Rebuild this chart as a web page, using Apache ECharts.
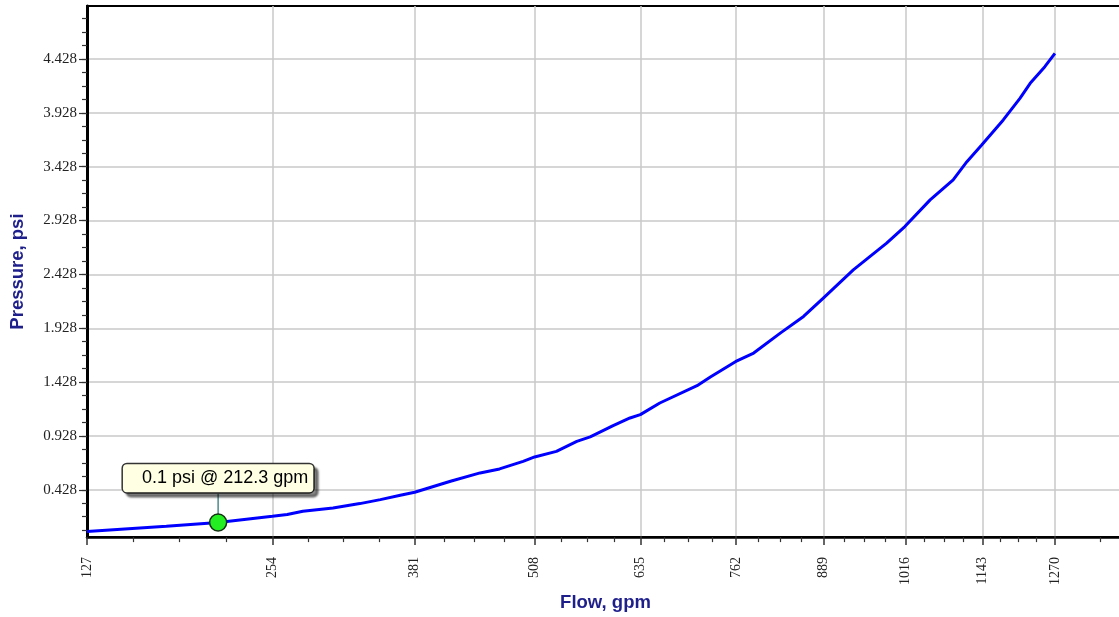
<!DOCTYPE html>
<html>
<head>
<meta charset="utf-8">
<script src="https://cdn.jsdelivr.net/npm/echarts@6/dist/echarts.min.js"></script>
<style>
  html, body { margin: 0; padding: 0; background: #fff; overflow: hidden; }
  /* plot runs a few pixels past the right edge of the window, as in the source image */
  #chart { width: 1126px; height: 617px; }
</style>
</head>
<body>
<div id="chart"></div>
<script>
// flow (gpm) vs pressure (psi)
const flowGpm = [127, 176, 212.3, 254, 266, 279, 305, 329, 348, 367, 381, 417, 448, 469, 495, 508,
  533, 557, 573, 601, 622, 635, 660, 709, 727, 762, 787, 825, 859, 888, 934, 986, 1015,
  1056, 1094, 1117, 1142, 1179, 1208, 1226, 1252, 1270]
const pressurePsi = [0.040, 0.089, 0.125, 0.182, 0.198, 0.229, 0.260, 0.300, 0.337, 0.377, 0.405, 0.507, 0.585, 0.622, 0.692, 0.733,
  0.785, 0.878, 0.919, 1.024, 1.095, 1.126, 1.234, 1.395, 1.475, 1.620, 1.698, 1.883, 2.038, 2.205, 2.470, 2.718, 2.872,
  3.120, 3.306, 3.475, 3.630, 3.862, 4.063, 4.202, 4.357, 4.481]

// highlighted point
const markerFlow = [212.3]
const markerPsi = [0.125]

// axis ticks
const flowTicks = [127, 254, 381, 508, 635, 762, 889, 1016, 1143, 1270]
const flowExtraMinor = [1352]
const psiTicks = [0.428, 0.928, 1.428, 1.928, 2.428, 2.928, 3.428, 3.928, 4.428]
const psiMin = -0.011
const psiMax = 4.92
const flowMin = 127
const flowMax = 1397

// the x axis is square-root scaled
const sq = v => Math.sqrt(v)

const xMajor = flowTicks.map(sq)
const xMinor = []
for (let i = 0; i < xMajor.length - 1; i++) {
  const step = (xMajor[i + 1] - xMajor[i]) / 4
  for (let k = 1; k < 4; k++) xMinor.push(xMajor[i] + step * k)
}
flowExtraMinor.forEach(v => xMinor.push(sq(v)))

const yMinor = []
for (let v = psiTicks[0] - 0.375; v < psiMax; v += 0.125) {
  if (v > psiMin) yMinor.push(+v.toFixed(4))
}

const navy = '#1f1f8c'
const tickColor = '#333'

const chart = echarts.init(document.getElementById('chart'), null, { renderer: 'canvas' })

chart.setOption({
  animation: false,
  grid: {
    left: 87,
    top: 6,
    right: 2,
    bottom: 79.5,
    show: true,
    borderColor: '#000',
    borderWidth: 2,
    backgroundColor: 'transparent'
  },
  xAxis: [
    {
      type: 'value',
      position: 'bottom',
      min: sq(flowMin),
      max: sq(flowMax),
      name: 'Flow, gpm',
      nameLocation: 'middle',
      nameGap: 51,
      nameTextStyle: { color: navy, fontSize: 18.5, fontWeight: 'bold', fontFamily: 'Liberation Sans, Arial, sans-serif' },
      axisLine: { onZero: false, lineStyle: { color: '#000', width: 2.5 } },
      axisTick: { customValues: xMajor, length: 8, lineStyle: { color: tickColor, width: 1.5 } },
      axisLabel: {
        customValues: xMajor,
        rotate: 90,
        margin: 20,
        color: '#222',
        fontSize: 14,
        fontFamily: 'Liberation Serif, Times New Roman, serif',
        formatter: v => String(Math.round(v * v))
      },
      splitLine: { show: true, lineStyle: { color: '#c8c8c8', width: 1.5 } }
    },
    {
      type: 'value',
      position: 'bottom',
      min: sq(flowMin),
      max: sq(flowMax),
      axisLine: { show: false, onZero: false },
      axisTick: { customValues: xMinor, length: 5, lineStyle: { color: tickColor, width: 1.2 } },
      axisLabel: { show: false },
      splitLine: { show: false }
    }
  ],
  yAxis: [
    {
      type: 'value',
      position: 'left',
      min: psiMin,
      max: psiMax,
      name: 'Pressure, psi',
      nameLocation: 'middle',
      nameGap: 60,
      nameRotate: 90,
      nameTextStyle: { color: navy, fontSize: 18.5, fontWeight: 'bold', fontFamily: 'Liberation Sans, Arial, sans-serif' },
      axisLine: { show: true, onZero: false, lineStyle: { color: '#000', width: 3 } },
      axisTick: { show: true, customValues: psiTicks, length: 8, lineStyle: { color: tickColor, width: 1.2 } },
      axisLabel: {
        customValues: psiTicks,
        margin: 10,
        color: '#222',
        fontSize: 15,
        fontFamily: 'Liberation Serif, Times New Roman, serif',
        formatter: v => v.toFixed(3)
      },
      splitLine: { show: true, lineStyle: { color: '#c8c8c8', width: 1.5 } }
    },
    {
      type: 'value',
      position: 'left',
      min: psiMin,
      max: psiMax,
      axisLine: { show: false, onZero: false },
      axisTick: { show: true, customValues: yMinor, length: 5, lineStyle: { color: tickColor, width: 1.2 } },
      axisLabel: { show: false },
      splitLine: { show: false }
    }
  ],
  series: [
    {
      name: 'Pressure',
      type: 'line',
      xAxisIndex: 0,
      yAxisIndex: 0,
      showSymbol: false,
      symbol: 'none',
      data: flowGpm.map((f, i) => [sq(f), pressurePsi[i]]),
      lineStyle: { color: '#0000ff', width: 3 },
      z: 3
    },
    {
      name: 'Marker',
      type: 'scatter',
      xAxisIndex: 0,
      yAxisIndex: 0,
      symbolSize: 17,
      data: markerFlow.map((f, i) => [sq(f), markerPsi[i]]),
      itemStyle: { color: '#22ee22', borderColor: '#123312', borderWidth: 1.5, opacity: 1 },
      label: {
        show: true,
        position: 'top',
        distance: 0,
        formatter: p => markerPsi[p.dataIndex].toFixed(1) + ' psi @ ' + markerFlow[p.dataIndex].toFixed(1) + ' gpm',
        color: '#000',
        fontSize: 18,
        lineHeight: 20,
        fontFamily: 'Liberation Sans, Arial, sans-serif',
        backgroundColor: '#ffffe4',
        borderColor: '#333',
        borderWidth: 1.5,
        borderRadius: 4,
        padding: [4, 5, 4, 19],
        shadowColor: 'rgba(0,0,0,0.45)',
        shadowBlur: 2,
        shadowOffsetX: 4,
        shadowOffsetY: 4,
        textShadowColor: 'transparent',
        textShadowBlur: 0
      },
      labelLayout: { dy: -21 },
      labelLine: { show: true, lineStyle: { color: '#4b8b8b', width: 1.5 } },
      emphasis: { disabled: true },
      z: 5
    }
  ]
})
</script>
</body>
</html>
